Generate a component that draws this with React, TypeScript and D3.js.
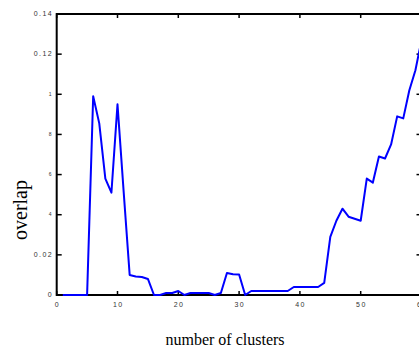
import React from 'react';
import * as d3 from 'd3';

// number of clusters vs overlap
const clusters = [
  1, 2, 3, 4, 5, 6, 7, 8, 9, 10,
  11, 12, 13, 14, 15, 16, 17, 18, 19, 20,
  21, 22, 23, 24, 25, 26, 27, 28, 29, 30,
  31, 32, 33, 34, 35, 36, 37, 38, 39, 40,
  41, 42, 43, 44, 45, 46, 47, 48, 49, 50,
  51, 52, 53, 54, 55, 56, 57, 58, 59, 60,
];
const overlap = [
  0, 0, 0, 0, 0, 0.099, 0.0855, 0.058, 0.051, 0.095,
  0.052, 0.01, 0.0092, 0.009, 0.008, 0, 0, 0.001, 0.001, 0.002,
  0, 0.001, 0.001, 0.001, 0.001, 0, 0.001, 0.011, 0.0103, 0.0102,
  0, 0.002, 0.002, 0.002, 0.002, 0.002, 0.002, 0.002, 0.004, 0.004,
  0.004, 0.004, 0.004, 0.006, 0.029, 0.037, 0.043, 0.039, 0.038, 0.037,
  0.058, 0.056, 0.069, 0.068, 0.075, 0.089, 0.088, 0.102, 0.112, 0.127,
];

const xTicks = [0, 10, 20, 30, 40, 50, 60];
const yTicks = [0, 0.02, 0.04, 0.06, 0.08, 0.1, 0.12, 0.14];
// the y labels in the figure are partly clipped
const yTickLabels = ['0', '0.02', '4', '6', '8', '1', '0.12', '0.14'];

const W = 419;
const H = 356;

export default function App() {
  const x = d3.scaleLinear().domain([0, 60]).range([56.7, 421.5]);
  const y = d3.scaleLinear().domain([0, 0.14]).range([295, 14]);

  const line = d3.line<number>()
    .x((d, i) => x(clusters[i]))
    .y(d => y(d));

  const tickFont = { fontFamily: 'Liberation Sans, Arial, sans-serif', fill: '#333' };

  return (
    <svg width={W} height={H} style={{ position: 'absolute', left: 0, top: 0 }}>
      <rect width={W} height={H} fill="#fff" />

      {/* frame */}
      <rect x={x(0)} y={y(0.14)} width={x(60) - x(0)} height={y(0) - y(0.14)}
        fill="none" stroke="#000" strokeWidth={2} />

      {/* x ticks, bottom and top */}
      {xTicks.map(t => (
        <g key={'x' + t}>
          <line x1={x(t)} x2={x(t)} y1={y(0)} y2={y(0) - 4} stroke="#000" strokeWidth={1.5} />
          <line x1={x(t)} x2={x(t)} y1={y(0.14)} y2={y(0.14) + 4} stroke="#000" strokeWidth={1.5} />
          <text x={x(t) + 0.7} y={307} textAnchor="middle" fontSize={7} letterSpacing={1.4} style={tickFont}>
            {t}
          </text>
        </g>
      ))}

      {/* y ticks, left and right */}
      {yTicks.map((t, i) => {
        const short = yTickLabels[i].length === 1 && t !== 0;
        return (
          <g key={'y' + t}>
            <line x1={x(0)} x2={x(0) + 5} y1={y(t)} y2={y(t)} stroke="#000" strokeWidth={1.5} />
            <line x1={x(60)} x2={x(60) - 5} y1={y(t)} y2={y(t)} stroke="#000" strokeWidth={1.5} />
            <text x={short ? 51.5 : 53} y={y(t) + (short ? 1.5 : 2)} textAnchor="end"
              fontSize={short ? 5 : 7} letterSpacing={short ? 0 : 1.4} style={tickFont}>
              {yTickLabels[i]}
            </text>
          </g>
        );
      })}

      {/* series */}
      <path d={line(overlap) || ''} fill="none" stroke="#0000ff" strokeWidth={2} strokeLinejoin="round" />

      {/* axis titles */}
      <text x={225} y={345} textAnchor="middle" fontSize={16}
        fontFamily="Liberation Serif, Times New Roman, serif">number of clusters</text>
      <text transform="translate(27,210) rotate(-90)" textAnchor="middle" fontSize={20}
        fontFamily="Liberation Serif, Times New Roman, serif">overlap</text>
    </svg>
  );
}
